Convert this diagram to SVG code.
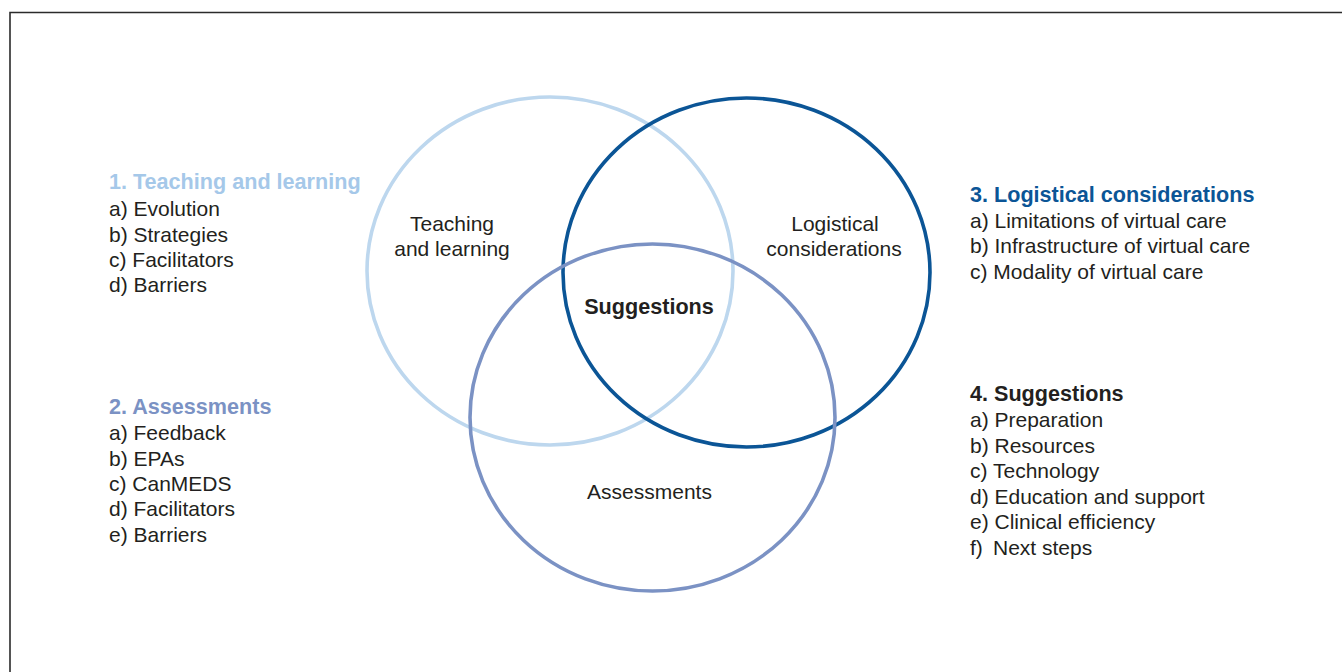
<svg xmlns="http://www.w3.org/2000/svg" width="1342" height="672" viewBox="0 0 1342 672">
<style>
  text { font-family: "Liberation Sans", Arial, sans-serif; font-size: 21px; fill: #231f20; }
  .b { font-weight: bold; }
  .h { font-size: 21.6px; }
  .mid { text-anchor: middle; }
  .ring { fill: none; stroke-width: 3.6; }
</style>
<rect x="0" y="0" width="1342" height="672" fill="#ffffff"/>
<g id="frame" stroke="#2b2b2b" stroke-width="1.6" fill="none">
  <path d="M10 672 V12.5 H1342"/>
</g>
<g id="connectors"></g>
<g id="teaching">
  <ellipse class="ring" cx="550" cy="271" rx="183" ry="174" stroke="#bdd7ee"/>
  <text class="mid" x="452" y="231">Teaching</text>
  <text class="mid" x="452" y="256">and learning</text>
</g>
<g id="logistical">
  <ellipse class="ring" cx="746.5" cy="272.5" rx="183.5" ry="174.5" stroke="#0b5596"/>
  <text class="mid" x="835" y="231">Logistical</text>
  <text class="mid" x="834" y="256">considerations</text>
</g>
<g id="assessments">
  <ellipse class="ring" cx="652.5" cy="417.5" rx="182.5" ry="173.5" stroke="#7b92c4"/>
  <text class="mid" x="649.5" y="499">Assessments</text>
</g>
<g id="suggestions">
  <text class="mid b h" x="649" y="314">Suggestions</text>
</g>
<g id="list1">
  <text class="b h" x="109" y="189" style="fill:#a5c8e9">1. Teaching and learning</text>
  <text x="109" y="216">a) Evolution</text>
  <text x="109" y="241.5">b) Strategies</text>
  <text x="109" y="267">c) Facilitators</text>
  <text x="109" y="292">d) Barriers</text>
</g>
<g id="list2">
  <text class="b h" x="109" y="414" style="fill:#7b92c4">2. Assessments</text>
  <text x="109" y="440">a) Feedback</text>
  <text x="109" y="465.5">b) EPAs</text>
  <text x="109" y="491">c) CanMEDS</text>
  <text x="109" y="516">d) Facilitators</text>
  <text x="109" y="542">e) Barriers</text>
</g>
<g id="list3">
  <text class="b h" x="970" y="202" style="fill:#0b5596">3. Logistical considerations</text>
  <text x="970" y="228">a) Limitations of virtual care</text>
  <text x="970" y="253">b) Infrastructure of virtual care</text>
  <text x="970" y="278.5">c) Modality of virtual care</text>
</g>
<g id="list4">
  <text class="b h" x="970" y="401">4. Suggestions</text>
  <text x="970" y="427">a) Preparation</text>
  <text x="970" y="452.5">b) Resources</text>
  <text x="970" y="478">c) Technology</text>
  <text x="970" y="503.5">d) Education and support</text>
  <text x="970" y="529">e) Clinical efficiency</text>
  <text x="970" y="554.5">f)<tspan x="993">Next steps</tspan></text>
</g>
</svg>
